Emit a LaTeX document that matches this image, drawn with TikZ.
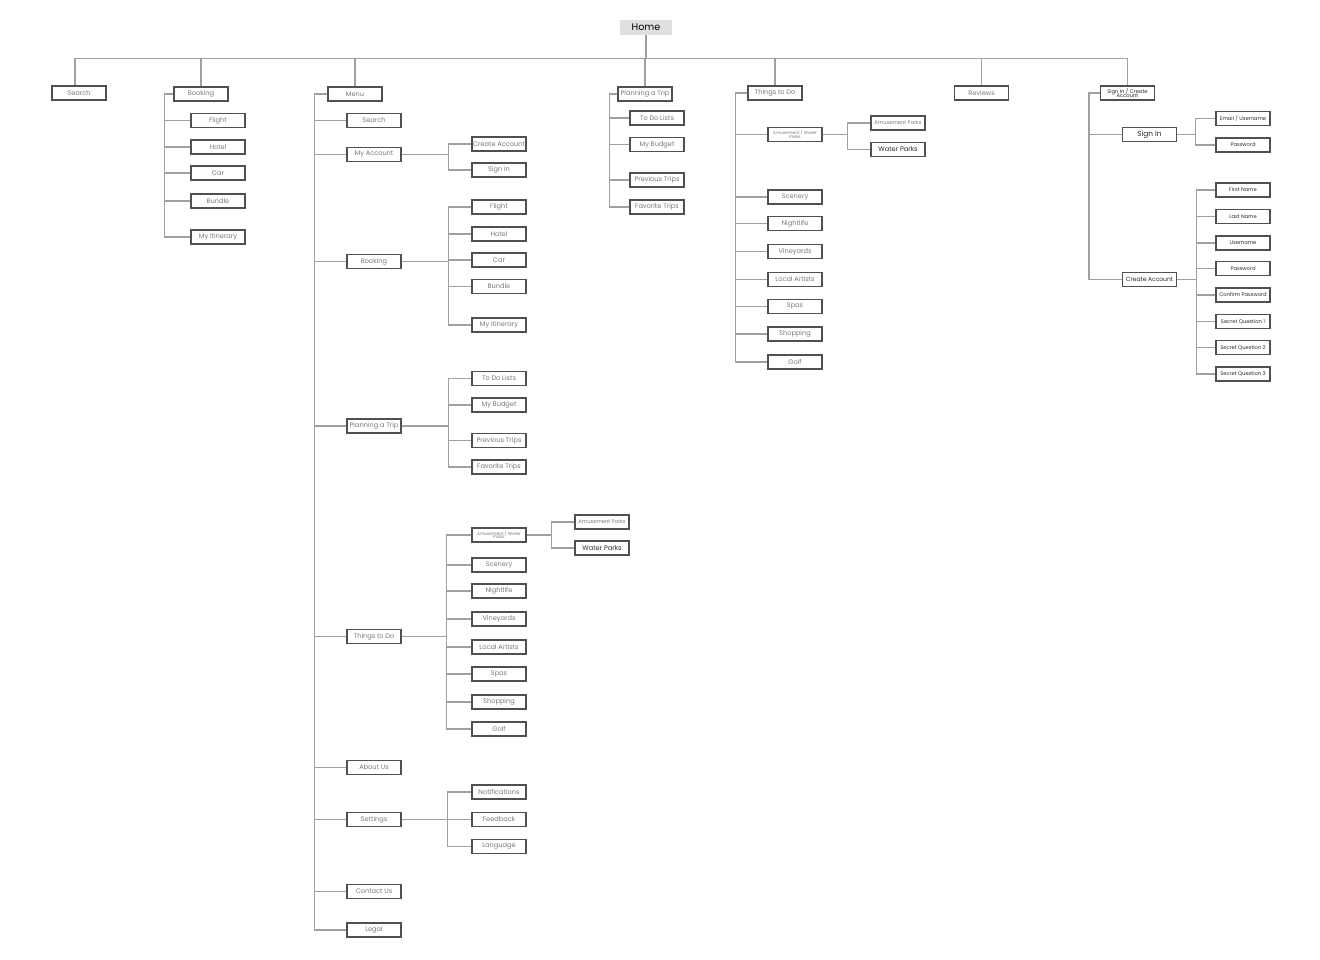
\documentclass[tikz,border=0pt]{standalone}
\usepackage{fontspec}
\setmainfont{Poppins}
\definecolor{boxc}{HTML}{505050}
\definecolor{linec}{HTML}{A0A0A0}
\definecolor{txtc}{HTML}{7A7A7A}
\definecolor{darkc}{HTML}{2A2A2A}
\definecolor{homec}{HTML}{E0E0E0}
\tikzset{
 box/.style={draw=boxc, line width=1.3pt, fill=white, minimum width=54pt, minimum height=14pt, inner sep=0pt, font=\fontsize{6.6}{7}\selectfont, text=txtc, align=center},
 dark/.style={text=darkc},
 small/.style={font=\fontsize{5.2}{5.6}\selectfont},
 tiny/.style={font=\fontsize{4.3}{4.4}\selectfont},
 conn/.style={draw=linec, line width=1.3pt},
}
\begin{document}
\begin{tikzpicture}[x=1pt,y=-1pt]
\useasboundingbox (0,0) rectangle (1320,960);
\fill[white] (0,0) rectangle (1320,960);
% Home
\node[fill=homec, minimum width=52pt, minimum height=15pt, inner sep=0pt, font=\fontsize{9.6}{10}\selectfont, text=black] (home) at (646,27.5) {Home};
% top level
\node[box] (search) at (79,93) {Search};
\node[box] (booking) at (201,94) {Booking};
\node[box] (menu) at (355,94) {Menu};
\node[box] (plan) at (645,94) {Planning a Trip};
\node[box] (things) at (775,93) {Things to Do};
\node[box] (reviews) at (981.5,93) {Reviews};
\node[box, dark, small] (sica) at (1127.5,93) {Sign In / Create\\[-1.5pt]Account};
\draw[conn] (home.south) -- ++(0,23) -| ([xshift=-4pt]search.north);
\foreach \n in {booking,menu,plan,things,reviews,sica}
  \draw[conn] (home.south) -- ++(0,23) -| (\n.north);
% Booking (top)
\foreach \n/\y/\t in {bflight/120.5/Flight, bhotel/147/Hotel, bcar/173/Car, bbundle/201/Bundle, bitin/237/My Itinerary}{
  \node[box] (\n) at (218,\y) {\t};
  \draw[conn] (booking.west) -- ++(-9,0) |- (\n.west);
}
% Menu
\foreach \n/\y/\t in {msearch/120.5/Search, macc/154.5/My Account, mbook/261.5/Booking, mplan/426/Planning a Trip, mthings/636.5/Things to Do, mabout/767.5/About Us, mset/819.5/Settings, mcontact/891.5/Contact Us, mlegal/930/Legal}{
  \node[box] (\n) at (374,\y) {\t};
  \draw[conn] (menu.west) -- ++(-13,0) |- (\n.west);
}
\foreach \n/\y/\t in {mcreate/144/Create Account, msignin/170/Sign In}{
  \node[box] (\n) at (499,\y) {\t};
  \draw[conn] (macc.east) -- ++(47,0) |- (\n.west);
}
\foreach \n/\y/\t in {mbflight/207/Flight, mbhotel/234/Hotel, mbcar/260/Car, mbbundle/286.5/Bundle, mbitin/325/My Itinerary}{
  \node[box] (\n) at (499,\y) {\t};
  \draw[conn] (mbook.east) -- ++(47,0) |- (\n.west);
}
\foreach \n/\y/\t in {mptodo/378.5/To Do Lists, mpbudget/405/My Budget, mpprev/440.5/Previous Trips, mpfav/467/Favorite Trips}{
  \node[box] (\n) at (499,\y) {\t};
  \draw[conn] (mplan.east) -- ++(47,0) |- (\n.west);
}
\node[box, tiny] (mtamuse) at (499,535) {Amusement / Water\\[-0.8pt]Parks};
\draw[conn] (mthings.east) -- ++(45,0) |- (mtamuse.west);
\foreach \n/\y/\t in {mtscen/565/Scenery, mtnight/591/Nightlife, mtvine/619/Vineyards, mtlocal/647/Local Artists, mtspas/674/Spas, mtshop/702/Shopping, mtgolf/729/Golf}{
  \node[box] (\n) at (499,\y) {\t};
  \draw[conn] (mthings.east) -- ++(45,0) |- (\n.west);
}
\node[box, small] (mtap) at (602,522) {Amusement Parks};
\node[box, dark] (mtwp) at (602,548) {Water Parks};
\draw[conn] (mtamuse.east) -- ++(25,0) |- (mtap.west);
\draw[conn] (mtamuse.east) -- ++(25,0) |- (mtwp.west);
\foreach \n/\y/\t in {msnot/792/Notifications, msfeed/819.5/Feedback, mslang/846.5/Language}{
  \node[box] (\n) at (499,\y) {\t};
  \draw[conn] (mset.east) -- ++(46,0) |- (\n.west);
}
% Planning a Trip (top)
\foreach \n/\y/\t in {ptodo/118/To Do Lists, pbudget/144.5/My Budget, pprev/180/Previous Trips, pfav/207/Favorite Trips}{
  \node[box] (\n) at (657,\y) {\t};
  \draw[conn] (plan.west) -- ++(-8,0) |- (\n.west);
}
% Things to Do (top)
\node[box, tiny] (tamuse) at (795,134.5) {Amusement / Water\\[-0.8pt]Parks};
\draw[conn] (things.west) -- ++(-12,0) |- (tamuse.west);
\foreach \n/\y/\t in {tscen/197/Scenery, tnight/223.5/Nightlife, tvine/251.5/Vineyards, tlocal/279.5/Local Artists, tspas/306.5/Spas, tshop/334/Shopping, tgolf/362/Golf}{
  \node[box] (\n) at (795,\y) {\t};
  \draw[conn] (things.west) -- ++(-12,0) |- (\n.west);
}
\node[box, small] (tap) at (898,123) {Amusement Parks};
\node[box, dark] (twp) at (898,149.5) {Water Parks};
\draw[conn] (tamuse.east) -- ++(25,0) |- (tap.west);
\draw[conn] (tamuse.east) -- ++(25,0) |- (twp.west);
% Sign In / Create Account
\node[box, dark, font=\fontsize{7.4}{8}\selectfont] (ssign) at (1149.5,134.5) {Sign In};
\node[box, dark, font=\fontsize{6}{7}\selectfont] (screate) at (1149.5,279.5) {Create Account};
\draw[conn] (sica.west) -- ++(-11,0) |- (ssign.west);
\draw[conn] (sica.west) -- ++(-11,0) |- (screate.west);
\foreach \n/\y/\t in {semail/118.5/{Email / Username}, spass/145/Password}{
  \node[box, dark, small] (\n) at (1243,\y) {\t};
  \draw[conn] (ssign.east) -- ++(18,0) |- (\n.west);
}
\foreach \n/\y/\t in {cfirst/190/First Name, clast/216.5/Last Name, cuser/243/Username, cpass/268.5/Password, cconf/295/Confirm Password, cq1/321.5/Secret Question 1, cq2/347.5/Secret Question 2, cq3/374/Secret Question 3}{
  \node[box, dark, small] (\n) at (1243,\y) {\t};
  \draw[conn] (screate.east) -- ++(19,0) |- (\n.west);
}
\end{tikzpicture}
\end{document}
